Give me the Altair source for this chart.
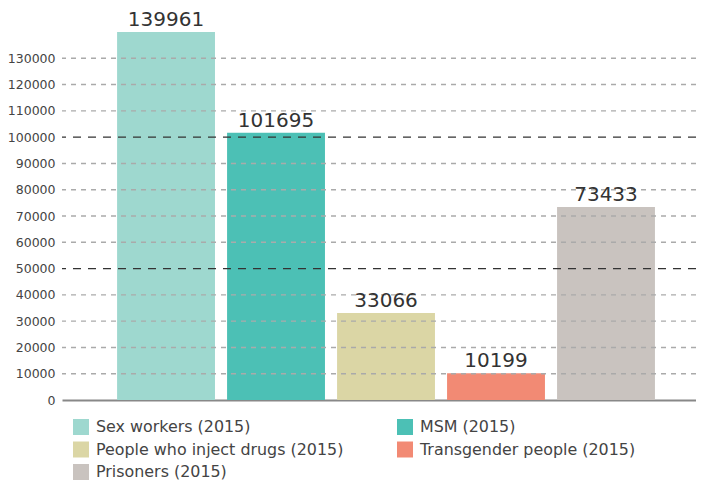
import altair as alt
import pandas as pd

categories = ["Sex workers (2015)", "MSM (2015)", "People who inject drugs (2015)",
              "Transgender people (2015)", "Prisoners (2015)"]
values = [139961, 101695, 33066, 10199, 73433]
colors = ["#9ED8CF", "#4CC0B5", "#DBD6A5", "#F28A74", "#C9C3BF"]
tick_values = [0, 10000, 20000, 30000, 40000, 50000, 60000, 70000, 80000, 90000,
               100000, 110000, 120000, 130000]
minor_ticks = [10000, 20000, 30000, 40000, 60000, 70000, 80000, 90000, 110000, 120000, 130000]
major_ticks = [50000, 100000]

df = pd.DataFrame({"cat": categories, "value": values})
df_minor = pd.DataFrame({"value": minor_ticks})
df_major = pd.DataFrame({"value": major_ticks})

FONT = "DejaVu Sans"

yscale = alt.Scale(domain=[0, 140000], nice=False)
yaxis = alt.Axis(values=tick_values, grid=False, domain=False, ticks=False,
                 title=None, labelPadding=7, labelFontSize=12.5,
                 labelColor="#444444", format="d", labelFont=FONT)

x = alt.X("cat:N", sort=categories,
          scale=alt.Scale(paddingInner=0.11, paddingOuter=0.437, align=0.573),
          axis=alt.Axis(labels=False, ticks=False, title=None,
                        domainColor="#888888", domainWidth=2))

bars = alt.Chart(df).mark_bar().encode(
    x=x,
    y=alt.Y("value:Q", scale=yscale, axis=yaxis),
    color=alt.Color("cat:N", sort=categories,
                    scale=alt.Scale(domain=categories, range=colors),
                    legend=alt.Legend(orient="none", legendX=11, legendY=387, columns=2,
                                      direction="horizontal",
                                      title=None, symbolType="square", symbolSize=256,
                                      symbolStrokeWidth=0, labelFontSize=15.9,
                                      labelColor="#444444", labelFont=FONT,
                                      columnPadding=53, rowPadding=6.5, labelOffset=7,
                                      labelLimit=400, symbolOpacity=1)),
)

minor = alt.Chart(df_minor).mark_rule(color="#aaaaaa", strokeDash=[5, 5],
                                      strokeWidth=1.4).encode(
    y=alt.Y("value:Q", scale=yscale, axis=yaxis))
major = alt.Chart(df_major).mark_rule(color="#333333", strokeDash=[8, 7],
                                      strokeWidth=1.3).encode(
    y=alt.Y("value:Q", scale=yscale, axis=yaxis))

labels = alt.Chart(df).mark_text(baseline="bottom", dy=-2, fontSize=20,
                                 color="#333333", font=FONT).encode(
    x=alt.X("cat:N", sort=categories),
    y=alt.Y("value:Q", scale=yscale, axis=yaxis),
    text=alt.Text("value:Q", format="d"),
)

chart = alt.layer(bars, minor, major, labels).properties(
    width=634, height=368,
    autosize=alt.AutoSizeParams(type="none"),
    padding={"left": 54, "top": 24, "right": 0, "bottom": 80},
).configure(font=FONT).configure_view(strokeWidth=0, stroke="transparent")

chart.save("out.html", embed_options={"renderer": "svg", "actions": False})
